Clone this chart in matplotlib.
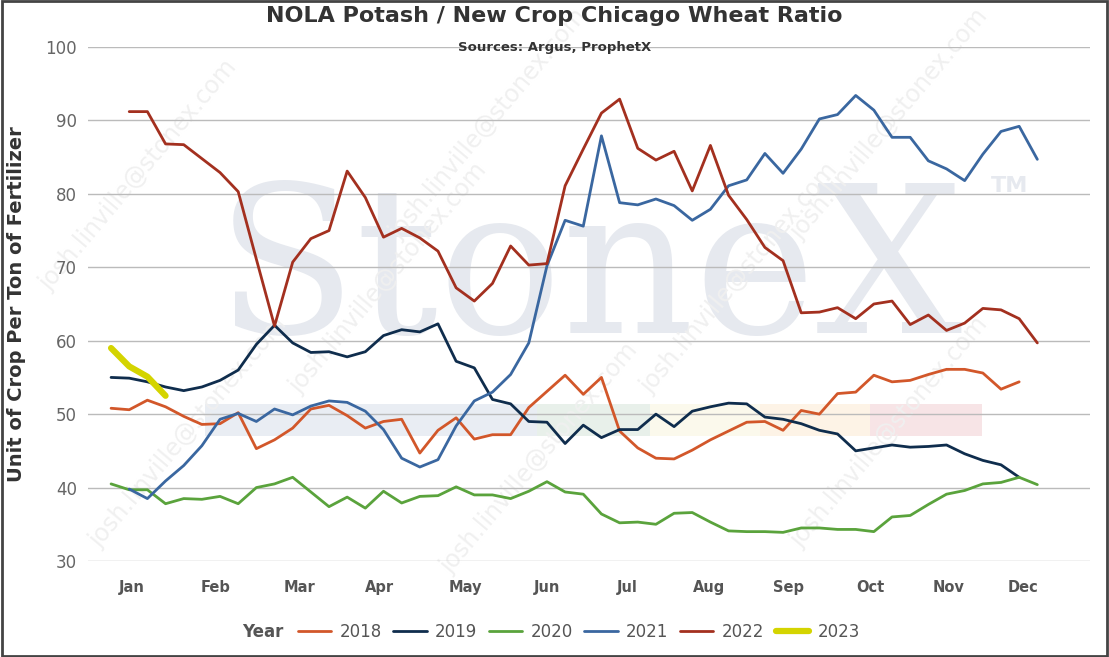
import numpy as np
import matplotlib.pyplot as plt
from matplotlib.patches import Rectangle
from matplotlib.offsetbox import HPacker

# ============================================================
# Data (weekly ratio, week index 0..51)
# ============================================================

Y2018 = [50.8, 50.6, 51.9, 51.0, 49.7, 48.6, 48.7, 50.2, 45.3, 46.5, 48.1, 50.7, 51.2,
         49.8, 48.1, 49.0, 49.3, 44.7, 47.8, 49.5, 46.6, 47.2, 47.2, 50.9, 53.1, 55.3,
         52.7, 55.0, 47.7, 45.4, 44.0, 43.9, 45.1, 46.5, 47.7, 48.9, 49.0, 47.8, 50.5,
         50.0, 52.8, 53.0, 55.3, 54.4, 54.6, 55.4, 56.1, 56.1, 55.6, 53.4, 54.4]
Y2019 = [55.0, 54.9, 54.4, 53.7, 53.2, 53.7, 54.6, 56.0, 59.5, 62.1, 59.7, 58.4, 58.5,
         57.8, 58.5, 60.7, 61.5, 61.2, 62.3, 57.2, 56.3, 52.0, 51.4, 49.0, 48.9, 46.0,
         48.5, 46.8, 47.9, 47.9, 50.0, 48.3, 50.4, 51.0, 51.5, 51.4, 49.6, 49.3, 48.7,
         47.8, 47.3, 45.0, 45.4, 45.8, 45.5, 45.6, 45.8, 44.6, 43.7, 43.1, 41.4]
Y2020 = [40.5, 39.7, 39.7, 37.8, 38.5, 38.4, 38.8, 37.8, 40.0, 40.5, 41.4, 39.4, 37.4,
         38.7, 37.2, 39.5, 37.9, 38.8, 38.9, 40.1, 39.0, 39.0, 38.5, 39.5, 40.8, 39.4,
         39.1, 36.4, 35.2, 35.3, 35.0, 36.5, 36.6, 35.3, 34.1, 34.0, 34.0, 33.9, 34.5,
         34.5, 34.3, 34.3, 34.0, 36.0, 36.2, 37.7, 39.1, 39.6, 40.5, 40.7, 41.4, 40.4]
Y2021 = [39.8, 38.5, 40.9, 43.0, 45.7, 49.3, 50.1, 49.0, 50.7, 49.9, 51.1, 51.8, 51.6,
         50.4, 47.9, 44.0, 42.8, 43.8, 48.4, 51.8, 53.0, 55.4, 59.7, 70.2, 76.4, 75.6,
         87.9, 78.8, 78.5, 79.3, 78.4, 76.4, 77.9, 81.1, 81.9, 85.5, 82.8, 86.1, 90.2,
         90.8, 93.4, 91.4, 87.7, 87.7, 84.5, 83.4, 81.8, 85.4, 88.5, 89.2, 84.7]
Y2022 = [91.2, 91.2, 86.8, 86.7, 84.8, 82.9, 80.3, 71.1, 62.0, 70.7, 73.9, 75.0, 83.1,
         79.5, 74.1, 75.3, 74.0, 72.2, 67.2, 65.4, 67.8, 72.9, 70.3, 70.5, 81.1, 86.1,
         91.0, 92.9, 86.2, 84.6, 85.8, 80.4, 86.6, 79.8, 76.5, 72.7, 70.9, 63.8, 63.9,
         64.5, 63.0, 65.0, 65.4, 62.2, 63.5, 61.4, 62.4, 64.4, 64.2, 63.0, 59.7]
Y2023 = [59.0, 56.5, 55.1, 52.5]

SERIES = [
    ("2018", 0, Y2018, "#d2572a", 2.0),
    ("2019", 0, Y2019, "#0f2d4d", 2.0),
    ("2020", 0, Y2020, "#5aa33c", 2.0),
    ("2021", 1, Y2021, "#3a67a0", 2.0),
    ("2022", 1, Y2022, "#a3301f", 2.0),
    ("2023", 0, Y2023, "#d4d400", 4.5),
]

MONTHS = ["Jan", "Feb", "Mar", "Apr", "May", "Jun", "Jul", "Aug", "Sep", "Oct", "Nov", "Dec"]
MONTH_POS = [1.16, 5.78, 10.35, 14.8, 19.5, 24.0, 28.4, 32.9, 37.3, 41.8, 46.1, 50.2]

# ============================================================
# Plot
# ============================================================

fig = plt.figure(figsize=(11.09, 6.57), dpi=100)
ax = fig.add_axes([88 / 1109, 1 - 561 / 657, (1090 - 88) / 1109, (561 - 47) / 657])

# watermark
ax.text(0.5, 0.555, "StoneX", transform=ax.transAxes, ha="center", va="center",
        fontsize=148, family="DejaVu Serif", color="#e6e9ef", zorder=0)
ax.text(0.92, 0.73, "TM", transform=ax.transAxes, ha="center", va="center",
        fontsize=16, color="#e6e9ef", fontweight="bold", zorder=0)
band_cols = ["#e9edf3", "#e8f0ea", "#fbf9ec", "#fdf3e6", "#f7e4e6"]
band_x = [205, 537, 650, 760, 870, 982]
for i, c in enumerate(band_cols):
    x0 = (band_x[i] - 88) / (1090 - 88)
    w = (band_x[i + 1] - band_x[i]) / (1090 - 88)
    ax.add_patch(Rectangle((x0, 0.243), w, 0.062, transform=ax.transAxes,
                           color=c, zorder=0, lw=0))
for (tx, ty) in [(0.05, 0.75), (0.4, 0.85), (0.8, 0.85), (0.1, 0.25), (0.45, 0.2),
                 (0.8, 0.25), (0.3, 0.55), (0.65, 0.55)]:
    ax.text(tx, ty, "josh.linville@stonex.com", transform=ax.transAxes, rotation=50,
            ha="center", va="center", fontsize=17, color="#f0f0f0", zorder=0)

for name, start, vals, col, lw in SERIES:
    x = np.arange(start, start + len(vals))
    ax.plot(x, vals, color=col, lw=lw, label=name, zorder=3, solid_capstyle="round")

ax.set_xlim(-1.27, 53.9)
ax.set_ylim(30, 100)
ax.set_yticks(range(30, 101, 10))
ax.set_xticks(MONTH_POS)
ax.set_xticklabels(MONTHS, fontweight="bold", color="#555555", fontsize=10.5)
ax.tick_params(axis="y", labelsize=12, colors="#666666", length=0, pad=8)
ax.tick_params(axis="x", length=0, pad=14)
ax.grid(axis="y", color="#bbbbbb", lw=1)
for s in ax.spines.values():
    s.set_visible(False)
ax.set_ylabel("Unit of Crop Per Ton of Fertilizer", fontsize=14, fontweight="bold",
              color="#333333", labelpad=14)

fig.text(0.5, 1 - 16 / 657, "NOLA Potash / New Crop Chicago Wheat Ratio", ha="center",
         va="center", fontsize=16, fontweight="bold", color="#333333")
fig.text(0.5, 1 - 47 / 657, "Sources: Argus, ProphetX", ha="center", va="center",
         fontsize=9.5, fontweight="bold", color="#333333")

leg = fig.legend(loc="center", bbox_to_anchor=(0.497, 1 - 632 / 657), ncol=6,
                 frameon=False, fontsize=12, handlelength=2.0, handletextpad=0.5,
                 columnspacing=0.7,
                 title="Year", title_fontproperties={"weight": "bold", "size": 12})
for t in leg.get_texts():
    t.set_color("#555555")
leg.get_title().set_color("#555555")
box = leg._legend_box
box._children = [HPacker(children=[box._children[0], box._children[1]], pad=0, sep=10,
                         align="center")]

fig.add_artist(Rectangle((0.002, 0.002), 0.996, 0.996, transform=fig.transFigure,
                         fill=False, ec="#444444", lw=2))

fig.savefig("out.png", dpi=100)
